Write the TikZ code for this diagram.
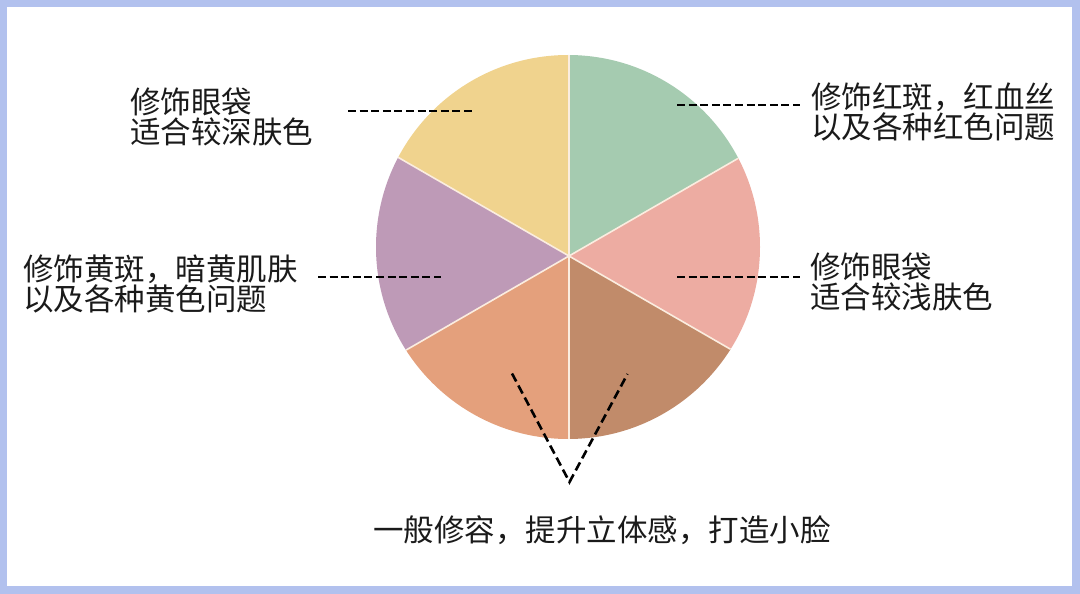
\documentclass[tikz,border=0pt]{standalone}
\usepackage{fontspec}
\newfontfamily\cjk{Noto Sans CJK SC}
\definecolor{frameblue}{HTML}{B2C1EE}
\definecolor{cgreen}{HTML}{A5CBB0}
\definecolor{cpink}{HTML}{EDACA2}
\definecolor{cbrown}{HTML}{C18B6A}
\definecolor{corange}{HTML}{E4A07C}
\definecolor{cpurple}{HTML}{BE9AB7}
\definecolor{cyellow}{HTML}{F0D38E}
\definecolor{sepcol}{HTML}{FBEDE0}
\definecolor{txt}{HTML}{1A1A1A}
\tikzset{
  lbl/.style={anchor=north west, inner sep=0pt, align=left, text=txt,
    font=\cjk\fontsize{30.5}{29.5}\selectfont},
  dashline/.style={draw=black, line width=2.6pt, dash pattern=on 8pt off 3.6pt},
  vdash/.style={draw=black, line width=2.6pt, dash pattern=on 9pt off 4.6pt, miter limit=10},
  sepline/.style={draw=sepcol, line width=1.6pt}
}
\begin{document}
\begin{tikzpicture}[x=1pt,y=-1pt]
\useasboundingbox (0,0) rectangle (1080,594);
\fill[frameblue] (0,0) rectangle (1080,594);
\fill[white] (7,7) rectangle (1072,586);
% pie
\coordinate (H) at (569,256);
\coordinate (pU) at (569,-144);
\coordinate (pUR) at (915.4,56);
\coordinate (pLR) at (915.4,456);
\coordinate (pD) at (569,656);
\coordinate (pLL) at (222.6,456);
\coordinate (pUL) at (222.6,56);
\begin{scope}
  \clip (568,247) circle[radius=192];
  \fill[cgreen] (H) -- (pU) -- (pUR) -- cycle;
  \fill[cpink] (H) -- (pUR) -- (pLR) -- cycle;
  \fill[cbrown] (H) -- (pLR) -- (pD) -- cycle;
  \fill[corange] (H) -- (pD) -- (pLL) -- cycle;
  \fill[cpurple] (H) -- (pLL) -- (pUL) -- cycle;
  \fill[cyellow] (H) -- (pUL) -- (pU) -- cycle;
  \foreach \p in {pU,pUR,pLR,pD,pLL,pUL} \draw[sepline] (H) -- (\p);
\end{scope}
% labels
\node[lbl] (tl) at (130,88) {修饰眼袋\\适合较深肤色};
\node[lbl] (tr) at (811,83) {修饰红斑，红血丝\\以及各种红色问题};
\node[lbl] (rr) at (810,253) {修饰眼袋\\适合较浅肤色};
\node[lbl] (ll) at (23,255) {修饰黄斑，暗黄肌肤\\以及各种黄色问题};
\node[lbl] (bb) at (373,515) {一般修容，提升立体感，打造小脸};
% connectors
\coordinate (tla) at (348,111);
\coordinate (tlb) at (472,111);
\coordinate (tra) at (677,105);
\coordinate (trb) at (800,105);
\coordinate (rra) at (677,277);
\coordinate (rrb) at (800,277);
\coordinate (lla) at (318,277);
\coordinate (llb) at (441,277);
\coordinate (va) at (512,373.5);
\coordinate (vb) at (569.5,482);
\coordinate (vc) at (627.5,374);
\draw[dashline] (tla) -- (tlb);
\draw[dashline] (tra) -- (trb);
\draw[dashline] (rra) -- (rrb);
\draw[dashline] (lla) -- (llb);
\draw[vdash] (va) -- (vb) -- (vc);
\end{tikzpicture}
\end{document}
